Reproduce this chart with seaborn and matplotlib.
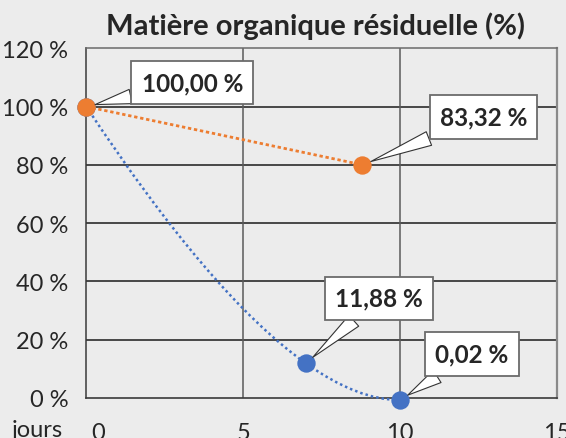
import numpy as np
import pandas as pd
import matplotlib
matplotlib.use("Agg")
import matplotlib.pyplot as plt
import matplotlib.transforms as mtransforms
from matplotlib.path import Path
from matplotlib.patches import PathPatch
import seaborn as sns

# ---------------- data ----------------
title = "Matière organique résiduelle (%)"
x_axis_title = "jours"
orange_x = [0, 8.8]
orange_y = [100, 80]
orange_labels = ["100,00 %", "83,32 %"]
blue_x = [0, 7, 10]
blue_y = [100, 11.88, -0.7]
blue_labels = ["", "11,88 %", "0,02 %"]
x_ticks = [0, 5, 10, 15]
y_ticks = [0, 20, 40, 60, 80, 100, 120]
y_ticklabels = ["0 %", "20 %", "40 %", "60 %", "80 %", "100 %", "120 %"]

# label offsets (pixels) from their point
orange_offsets = [(106, 24), (121, 48)]
blue_offsets = [(0, 0), (73, 65), (72, 46)]

ORANGE = "#ED7D31"
BLUE = "#4472C4"
BG = "#ececec"
TXT = "#262626"

sns.set_theme(style="white")
plt.rcParams["font.family"] = ["Lato", "DejaVu Sans"]

W, H = 566, 439
fig = plt.figure(figsize=(W / 100, H / 100), dpi=100, facecolor=BG)
L, R, T, B = 86.3, 557, 49.3, 399
ax = fig.add_axes([L / W, 1 - B / H, (R - L) / W, (B - T) / H])
ax.set_facecolor(BG)
ax.set_xlim(0, 15)
ax.set_ylim(0, 120)
ax.set_xticks(x_ticks)
ax.set_yticks(y_ticks)
ax.set_yticklabels(y_ticklabels)
ax.tick_params(axis="both", length=0, labelsize=17, labelcolor=TXT)
ax.tick_params(axis="y", pad=13)
ax.tick_params(axis="x", pad=17)
ax.grid(False)
for y in y_ticks[1:-1]:
    ax.axhline(y, color="#2b2b2b", lw=1.2, zorder=1)
for x in x_ticks[1:-1]:
    ax.axvline(x, color="#5a5a5a", lw=1.1, zorder=1)
for side, col, lw in [("left", "#3a3a3a", 1.1), ("bottom", "#3a3a3a", 1.2),
                      ("top", "#6a6a6a", 1.1), ("right", "#8a8a8a", 1.6)]:
    ax.spines[side].set_visible(True)
    ax.spines[side].set_color(col)
    ax.spines[side].set_linewidth(lw)

# shift first x tick label to the right as in the reference
lab0 = ax.get_xticklabels()[0]
lab0.set_transform(lab0.get_transform() + mtransforms.ScaledTranslation(12 / 100, 0, fig.dpi_scale_trans))

# ---------------- blue smoothed curve (centripetal Catmull-Rom in display space) ----------------
P = ax.transData.transform(np.column_stack([blue_x, blue_y]))
n = len(P)
d = np.sqrt(np.linalg.norm(np.diff(P, axis=0), axis=1))
m = np.zeros_like(P)
for i in range(1, n - 1):
    m[i] = ((P[i] - P[i - 1]) / d[i - 1] * d[i] + (P[i + 1] - P[i]) / d[i] * d[i - 1]) / (d[i - 1] + d[i])
m[0] = 2 * (P[1] - P[0]) / d[0] - m[1]
m[-1] = 2 * (P[-1] - P[-2]) / d[-1] - m[-2]
verts = [P[0]]
codes = [Path.MOVETO]
for i in range(n - 1):
    c1 = P[i] + m[i] * d[i] / 3
    c2 = P[i + 1] - m[i + 1] * d[i] / 3
    verts += [c1, c2, P[i + 1]]
    codes += [Path.CURVE4] * 3
verts_data = ax.transData.inverted().transform(np.array(verts))
curve = PathPatch(Path(verts_data, codes), fill=False, ec=BLUE, lw=1.8,
                  linestyle=(0, (1, 1.2)), capstyle="butt", zorder=3, clip_on=False)
ax.add_patch(curve)

df_b = pd.DataFrame({"x": blue_x, "y": blue_y})
df_o = pd.DataFrame({"x": orange_x, "y": orange_y})
sns.scatterplot(data=df_b, x="x", y="y", ax=ax, color=BLUE, s=175, linewidth=0,
                zorder=4, clip_on=False, legend=False)
sns.lineplot(data=df_o, x="x", y="y", ax=ax, color=ORANGE, lw=2.0,
             linestyle=(0, (1.2, 1)), zorder=5, legend=False)
sns.scatterplot(data=df_o, x="x", y="y", ax=ax, color=ORANGE, s=175, linewidth=0,
                zorder=6, clip_on=False, legend=False)
ax.set_xlabel("")
ax.set_ylabel("")

def label(x, y, txt, off):
    if not txt:
        return
    ax.annotate(txt, xy=(x, y), xytext=off, textcoords="offset pixels",
                ha="center", va="center", fontsize=17.5, fontweight="bold", color=TXT,
                bbox=dict(boxstyle="square,pad=0.42", fc="white", ec="#6b6b6b", lw=1.3),
                arrowprops=dict(arrowstyle="wedge,tail_width=0.6,shrink_factor=0.5",
                                fc="white", ec="#333333", lw=0.8, shrinkA=0, shrinkB=6.5),
                zorder=8, annotation_clip=False)

for x, y, t, o in zip(orange_x, orange_y, orange_labels, orange_offsets):
    label(x, y, t, o)
for x, y, t, o in zip(blue_x, blue_y, blue_labels, blue_offsets):
    label(x, y, t, o)

fig.text(316 / W, 1 - 35.5 / H, title, ha="center", va="baseline",
         fontsize=21, fontweight="bold", color=TXT)
fig.text(37 / W, 1 - 437 / H, x_axis_title, ha="center", va="baseline",
         fontsize=17, color=TXT)

fig.savefig("out.png", dpi=100, facecolor=BG)
